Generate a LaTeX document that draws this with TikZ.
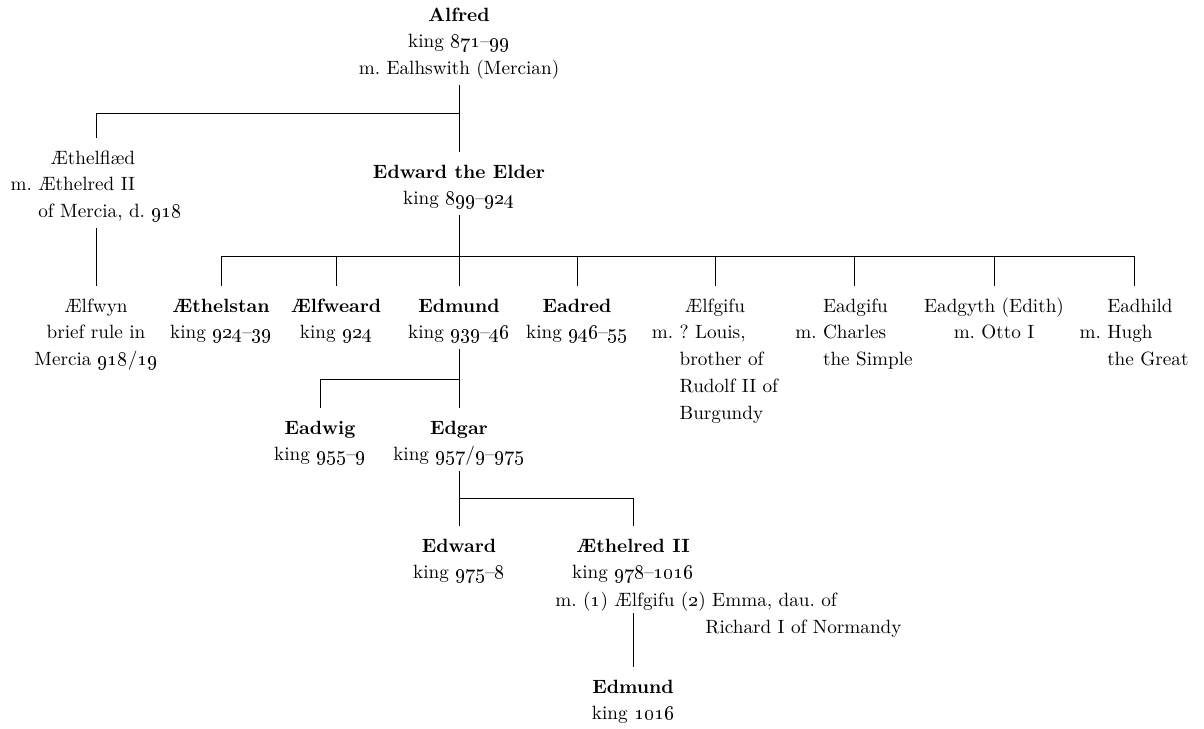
\documentclass[tikz,border=0pt]{standalone}
\usepackage{tikz}
\newcommand{\yr}[1]{\oldstylenums{#1}}
\newcommand{\pcol}[2][c]{\begin{tabular}[t]{@{}#1@{}}#2\end{tabular}}
\frenchspacing

\begin{document}
\begin{tikzpicture}[x=0.5pt, y=-0.5pt,
  person/.style={anchor=base, inner xsep=0pt, inner ysep=1pt, font=\fontsize{9.6}{13.4}\selectfont},
  link/.style={line width=0.45pt, shorten >=2.5pt}
]
  \useasboundingbox (0,0) rectangle (1204,728);

  \node[person] (alfred) at (459,21) {\pcol{\textbf{Alfred}\\ king \yr{871}–\yr{99}\\ m. Ealhswith (Mercian)}};
  \node[person] (aethelflaed) at (96,164) {\pcol[l]{\hphantom{m. Æthelred II}\llap{Æthelflæd}\\ m. Æthelred II\\ \hphantom{m. }of Mercia, d. \yr{918}}};
  \node[person] (edwardelder) at (459,178) {\pcol{\textbf{Edward the Elder}\\ king \yr{899}–\yr{924}}};

  \node[person] (aelfwyn) at (96,312) {\pcol{Ælfwyn\\ brief rule in\\ Mercia \yr{918}/\yr{19}}};
  \node[person] (athelstan) at (221,312) {\pcol{\textbf{Æthelstan}\\ king \yr{924}–\yr{39}}};
  \node[person] (aelfweard) at (336,312) {\pcol{\textbf{Ælfweard}\\ king \yr{924}}};
  \node[person] (edmund) at (459,312) {\pcol{\textbf{Edmund}\\ king \yr{939}–\yr{46}}};
  \node[person] (eadred) at (577,312) {\pcol{\textbf{Eadred}\\ king \yr{946}–\yr{55}}};
  \node[person] (aelfgifu) at (715,312) {\pcol[l]{\multicolumn{1}{@{}c@{}}{Ælfgifu}\\ m. ? Louis,\\ \hphantom{m. }brother of\\ \hphantom{m. }Rudolf II of\\ \hphantom{m. }Burgundy}};
  \node[person] (eadgifu) at (854,312) {\pcol[l]{\hphantom{m. }Eadgifu\\ m. Charles\\ \hphantom{m. }the Simple}};
  \node[person] (eadgyth) at (994,312) {\pcol{Eadgyth (Edith)\\ m. Otto I}};
  \node[person] (eadhild) at (1134,312) {\pcol[l]{\hphantom{m. }Eadhild\\ m. Hugh\\ \hphantom{m. }the Great}};

  \node[person] (eadwig) at (320,434) {\pcol{\textbf{Eadwig}\\ king \yr{955}–\yr{9}}};
  \node[person] (edgar) at (459,434) {\pcol{\textbf{Edgar}\\ king \yr{957}/\yr{9}–\yr{975}}};

  \node[person] (edward) at (459,552) {\pcol{\textbf{Edward}\\ king \yr{975}–\yr{8}}};
  \node[person] (aethelred) at (633,552) {\pcol{\textbf{Æthelred II}\\ king \yr{978}–\yr{1016}}};
  \node[person, anchor=base west] (aethelredm) at (555,606) {m. (\yr{1}) Ælfgifu (\yr{2}) Emma, dau. of};
  \node[person, anchor=base west] (richard) at (705,633) {Richard I of Normandy};

  \node[person] (edmundii) at (633,693) {\pcol{\textbf{Edmund}\\ king \yr{1016}}};

  \coordinate (j1) at (459,113);
  \coordinate (j2) at (459,256);
  \coordinate (j3) at (459,379);
  \coordinate (j4) at (459,498);

  \draw[link] (alfred.south) -- (edwardelder.north);
  \draw[link] (j1) -| (aethelflaed.north);
  \draw[link] (aethelflaed.south) -- (aelfwyn.north);

  \draw[link] (edwardelder.south) -- (edmund.north);
  \foreach \c in {athelstan,aelfweard,eadred,aelfgifu,eadgifu,eadgyth,eadhild}
    \draw[link] (j2) -| (\c.north);

  \draw[link] (edmund.south) -- (edgar.north);
  \draw[link] (j3) -| (eadwig.north);

  \draw[link] (edgar.south) -- (edward.north);
  \draw[link] (j4) -| (aethelred.north);
  \draw[link] (aethelredm.south -| edmundii.north) -- (edmundii.north);
\end{tikzpicture}
\end{document}
